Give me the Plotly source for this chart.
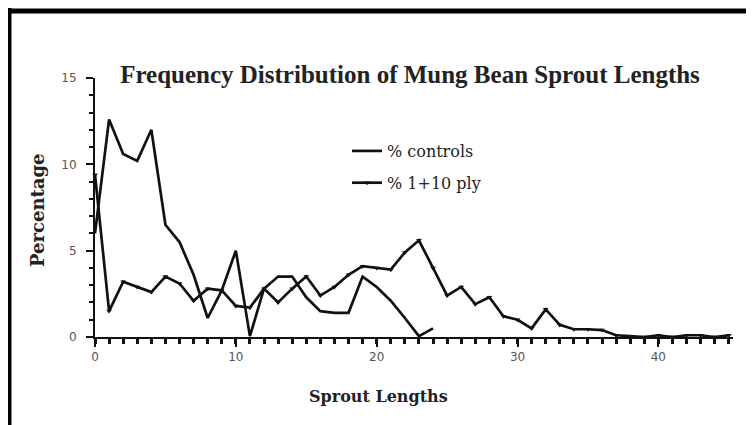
import plotly.graph_objects as go

sprout_lengths_controls = list(range(0, 25))
pct_controls = [6.0, 12.6, 10.6, 10.2, 12.0, 6.5, 5.5, 3.6, 1.1, 2.7, 5.0, 0.05, 2.8, 3.5, 3.5, 2.3,
                1.5, 1.4, 1.4, 3.5, 2.9, 2.1, 1.1, 0.05, 0.5]

sprout_lengths_ply = list(range(0, 46))
pct_ply = [9.4, 1.5, 3.2, 2.9, 2.6, 3.5, 3.1, 2.1, 2.8, 2.7, 1.8, 1.7, 2.8, 2.0, 2.8, 3.5,
           2.4, 2.9, 3.6, 4.1, 4.0, 3.9, 4.9, 5.6, 4.0, 2.4, 2.9, 1.9, 2.3, 1.2,
           1.0, 0.5, 1.6, 0.7, 0.45, 0.45, 0.4, 0.1, 0.05, 0.0, 0.1, 0.0, 0.1, 0.1, 0.0, 0.1]

x_ticks = [0, 10, 20, 30, 40]
y_ticks = [0, 5, 10, 15]

W, H = 754, 425
OFF = 8  # page body margin offset


def fx(px):
    return px - OFF


L = fx(95)
T = fx(78)
plot_right = fx(733)
plot_bottom = fx(337)
R = W - plot_right
B = H - plot_bottom
pw, ph = plot_right - L, plot_bottom - T


def px_to_paper_x(px):
    return (fx(px) - L) / pw


def py_to_paper_y(py):
    return (plot_bottom - fx(py)) / ph


fig = go.Figure()
fig.add_trace(go.Scatter(
    x=sprout_lengths_controls, y=pct_controls, mode="lines", name="% controls",
    line=dict(color="#111111", width=2.7), cliponaxis=False, legendgroup="a"))
fig.add_trace(go.Scatter(
    x=sprout_lengths_ply, y=pct_ply, mode="lines+markers", name="% 1+10 ply",
    line=dict(color="#111111", width=2.7),
    marker=dict(symbol="triangle-down", size=5, color="#111111"),
    cliponaxis=False, legendgroup="b"))

serif = "Liberation Serif, DejaVu Serif, serif"
wide_serif = "DejaVu Serif, Liberation Serif, serif"
fig.update_layout(
    width=W, height=H,
    margin=dict(l=L, r=R, t=T, b=B),
    paper_bgcolor="white", plot_bgcolor="white",
    title=dict(text="<b>Frequency Distribution of Mung Bean Sprout Lengths</b>",
               x=fx(410) / W, xanchor="center", y=1 - fx(74) / H, yanchor="middle",
               font=dict(family=serif, size=25, color="#222222")),
    legend=dict(x=px_to_paper_x(347), xanchor="left", y=py_to_paper_y(134),
                yanchor="top", font=dict(family=wide_serif, size=16, color="#222222"),
                bgcolor="rgba(0,0,0,0)", tracegroupgap=8),
    showlegend=True,
    xaxis=dict(range=[0, 45.3], tickvals=x_ticks, showgrid=False, zeroline=False,
               showline=True, linecolor="#111111", linewidth=2,
               ticks="outside", ticklen=8, tickwidth=2, tickcolor="#111111",
               minor=dict(dtick=1, ticks="outside", ticklen=5, tickwidth=2.5, tickcolor="#111111"),
               tickfont=dict(family="DejaVu Sans, sans-serif", size=12, color="#555555")),
    yaxis=dict(range=[0, 15], tickvals=y_ticks, showgrid=False, zeroline=False,
               showline=True, linecolor="#111111", linewidth=2,
               ticks="outside", ticklen=7, tickwidth=2, tickcolor="#111111",
               minor=dict(dtick=1, ticks="outside", ticklen=4, tickwidth=2, tickcolor="#111111"),
               ticklabelstandoff=7,
               tickfont=dict(family="DejaVu Sans, sans-serif", size=12, color="#555555")),
    annotations=[
        dict(text="<b>Sprout Lengths</b>", xref="paper", yref="paper",
             x=px_to_paper_x(378), y=py_to_paper_y(396), xanchor="center", yanchor="middle",
             showarrow=False, font=dict(family=wide_serif, size=16, color="#222222")),
        dict(text="<b>Percentage</b>", xref="paper", yref="paper", textangle=-90,
             x=px_to_paper_x(37), y=py_to_paper_y(210), xanchor="center", yanchor="middle",
             showarrow=False, font=dict(family=wide_serif, size=18, color="#222222")),
    ],
    shapes=[
        dict(type="line", xref="paper", yref="paper",
             x0=px_to_paper_x(9.5), x1=px_to_paper_x(9.5),
             y0=py_to_paper_y(8), y1=py_to_paper_y(440),
             line=dict(color="black", width=4)),
        dict(type="line", xref="paper", yref="paper",
             x0=px_to_paper_x(6), x1=px_to_paper_x(770),
             y0=py_to_paper_y(11), y1=py_to_paper_y(11),
             line=dict(color="black", width=5)),
    ],
)

fig.write_html("out.html")
